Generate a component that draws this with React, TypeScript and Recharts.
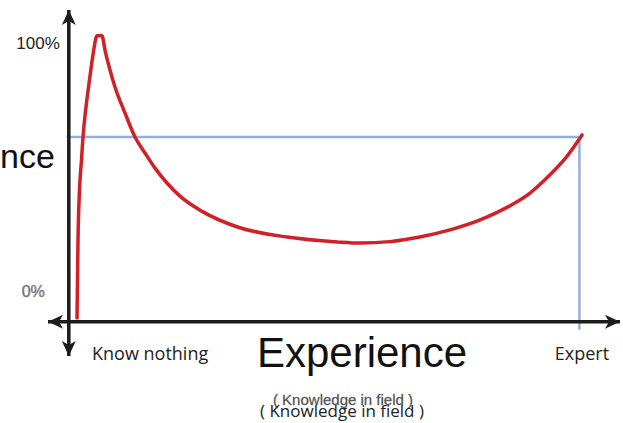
import { LineChart, Line, XAxis, YAxis, ReferenceLine, ReferenceDot } from 'recharts';

// hand-drawn confidence curve, sampled along the experience axis
const experience = [
  1.58, 1.77, 2.06, 2.44, 2.73, 3.31, 3.98, 4.65, 5.42, 6.38, 6.96, 7.92, 8.88, 10.8, 12.73, 14.65, 16.58, 18.88,
  21.38, 25.8, 32.3, 41.96, 51.6, 56.0, 61.8, 67.5, 73.3, 79.1, 84.8, 88.7, 92.1, 95.4, 98.7,
];
const confidence = [
  1.3, 28.6, 46.0, 56.5, 64.6, 75.1, 84.5, 93.3, 100, 100, 95.0, 88.0, 82.1, 73.0, 64.6, 59.0, 53.7, 48.5, 43.9,
  38.4, 33.2, 29.6, 27.9, 27.5, 28.0, 29.6, 32.1, 35.6, 40.5, 45.0, 50.6, 56.9, 65.3,
];

const expertLevel = 98.2;
const expertConfidence = 64.6;
const yTickValues = [97.5, 10.5];
const yTickLabels = ['100%', '0%'];

const xDomain = [-4, 106];
const yDomain = [-12, 109];

const data = experience.map((x, i) => ({ x, y: confidence[i] }));

const W = 623;
const H = 423;

type Dir = 'up' | 'down' | 'left' | 'right';

const arrowHead = (dir: Dir) => (props: any) => {
  const { cx, cy } = props;
  const l = 15;
  const w = 7;
  let d = '';
  if (dir === 'up') d = `M${cx},${cy} L${cx - w},${cy + l} L${cx},${cy + l - 4} L${cx + w},${cy + l} Z`;
  if (dir === 'down') d = `M${cx},${cy} L${cx - w},${cy - l} L${cx},${cy - l + 4} L${cx + w},${cy - l} Z`;
  if (dir === 'left') d = `M${cx},${cy} L${cx + l},${cy - w} L${cx + l - 4},${cy} L${cx + l},${cy + w} Z`;
  if (dir === 'right') d = `M${cx},${cy} L${cx - l},${cy - w} L${cx - l + 4},${cy} L${cx - l},${cy + w} Z`;
  return <path d={d} fill="#1c1c1c" />;
};

const sans = '"Liberation Sans", Arial, sans-serif';
const body = '"Open Sans", sans-serif';

export default function App() {
  return (
    <div style={{ position: 'fixed', left: 0, top: 0, width: W, height: H, background: '#fff', overflow: 'hidden' }}>
      <LineChart width={W} height={H} data={data} margin={{ top: 10, right: 3, bottom: 67, left: 48 }}>
        <XAxis type="number" dataKey="x" domain={xDomain} hide allowDataOverflow />
        <YAxis type="number" domain={yDomain} hide allowDataOverflow />

        <ReferenceLine
          segment={[{ x: -0.4, y: expertConfidence }, { x: expertLevel, y: expertConfidence }]}
          stroke="#93afda"
          strokeWidth={2.5}
          ifOverflow="visible"
        />
        <ReferenceLine
          segment={[{ x: expertLevel, y: expertConfidence }, { x: expertLevel, y: -2.8 }]}
          stroke="#93afda"
          strokeWidth={2.5}
          ifOverflow="visible"
        />

        <ReferenceLine x={0} stroke="#1c1c1c" strokeWidth={3.5} />
        <ReferenceLine y={0} stroke="#1c1c1c" strokeWidth={3.5} />
        <ReferenceDot x={0} y={yDomain[1]} r={0} shape={arrowHead('up')} ifOverflow="visible" />
        <ReferenceDot x={0} y={yDomain[0]} r={0} shape={arrowHead('down')} ifOverflow="visible" />
        <ReferenceDot x={xDomain[0]} y={0} r={0} shape={arrowHead('left')} ifOverflow="visible" />
        <ReferenceDot x={xDomain[1]} y={0} r={0} shape={arrowHead('right')} ifOverflow="visible" />

        <ReferenceDot
          x={0}
          y={yTickValues[0]}
          r={0}
          ifOverflow="visible"
          label={{ value: yTickLabels[0], position: 'left', offset: 9, fill: '#222', fontSize: 17, fontFamily: sans }}
        />
        <ReferenceDot
          x={0}
          y={yTickValues[1]}
          r={0}
          ifOverflow="visible"
          label={{
            value: yTickLabels[1],
            position: 'left',
            offset: 24,
            fill: '#555',
            stroke: '#999',
            strokeWidth: 0.6,
            fontSize: 16,
            fontFamily: sans,
          }}
        />

        <Line
          type="monotone"
          dataKey="y"
          stroke="#d02128"
          strokeWidth={3.5}
          dot={false}
          isAnimationActive={false}
          strokeLinecap="round"
        />
      </LineChart>

      <svg width={W} height={H} style={{ position: 'absolute', left: 0, top: 0, pointerEvents: 'none' }}>
        <text x={0} y={168} fontSize={34} fontFamily={sans} fill="#111">
          nce
        </text>
        <text x={92} y={360} fontSize={18} fontFamily={body} fill="#222">
          Know nothing
        </text>
        <text x={362} y={367} textAnchor="middle" fontSize={42} fontFamily={sans} fill="#111">
          Experience
        </text>
        <text x={582} y={360} textAnchor="middle" fontSize={18} fontFamily={body} fill="#222">
          Expert
        </text>
        <text x={343} y={405} textAnchor="middle" fontSize={15} fontFamily={sans} fill="#444" stroke="#777" strokeWidth={0.3}>
          ( Knowledge in field )
        </text>
        <text x={342} y={417} textAnchor="middle" fontSize={17} fontFamily={body} fill="#222">
          ( Knowledge in field )
        </text>
      </svg>
    </div>
  );
}
